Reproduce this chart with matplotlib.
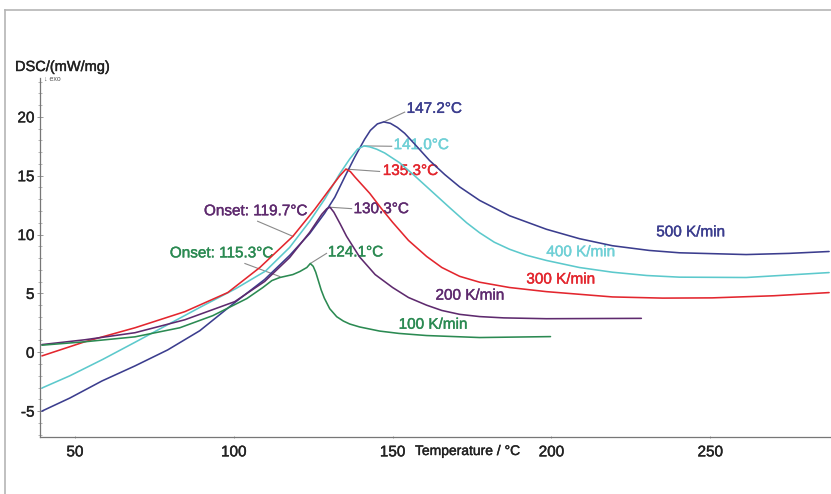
import matplotlib
matplotlib.use("Agg")
import matplotlib.pyplot as plt
from matplotlib.ticker import MultipleLocator
from matplotlib.lines import Line2D
import matplotlib.patheffects as pe
import numpy as np

plt.rcParams['font.family'] = ['Liberation Sans', 'DejaVu Sans']
plt.rcParams['axes.unicode_minus'] = False

# ---- data ----
t500 = [39.6, 48.4, 58.5, 68.9, 79.2, 89.3, 100.3, 109.7, 117.6, 123.9, 128.6, 131.8, 134.9, 138.1,
        141.2, 143.0, 145.2, 147.2, 149.3, 151.5, 153.8, 156.9, 161.6, 166.4, 171.1, 177.4, 186.8,
        198.4, 208.8, 219.2, 230.8, 240.3, 261.3, 274.8, 287.4]
y500 = [-5.00, -3.89, -2.44, -1.16, 0.20, 1.83, 4.22, 6.18, 8.23, 10.09, 11.81, 13.17, 14.88, 16.59,
        18.10, 18.85, 19.40, 19.57, 19.45, 19.10, 18.60, 17.70, 16.30, 15.10, 14.05, 12.90, 11.60,
        10.45, 9.65, 9.05, 8.65, 8.45, 8.30, 8.40, 8.56]

t400 = [39.6, 48.4, 58.8, 69.2, 79.6, 89.6, 100.6, 110.0, 117.6, 123.9, 128.6, 133.3, 136.5, 139.0,
        141.0, 142.8, 145.0, 147.5, 152.2, 156.9, 162.6, 167.9, 173.3, 177.4, 182.0, 186.8, 192.0,
        198.4, 208.8, 219.2, 230.0, 240.3, 261.3, 287.4]
y400 = [-3.04, -2.00, -0.60, 0.89, 2.40, 3.85, 5.40, 6.90, 8.91, 11.13, 13.00, 15.14, 16.42, 17.27,
        17.53, 17.45, 17.25, 16.93, 16.10, 15.00, 13.60, 12.30, 11.00, 10.15, 9.35, 8.75, 8.25,
        7.80, 7.20, 6.80, 6.52, 6.38, 6.35, 6.77]

t300 = [39.6, 53.1, 68.9, 84.6, 98.1, 108.2, 118.6, 125.5, 130.2, 133.3, 135.3, 136.7, 138.1, 142.8,
        146.5, 150.0, 155.0, 160.7, 165.5, 171.1, 177.4, 186.8, 198.4, 219.2, 235.0, 250.6, 270.0,
        287.4]
y300 = [-0.31, 0.89, 2.08, 3.45, 5.07, 7.20, 9.85, 12.15, 13.86, 14.97, 15.56, 15.35, 14.90, 13.50,
        12.20, 11.04, 9.50, 8.14, 7.20, 6.45, 5.95, 5.50, 5.15, 4.70, 4.60, 4.62, 4.80, 5.07]

t200 = [39.6, 53.1, 68.9, 84.6, 100.3, 109.7, 117.6, 123.9, 127.7, 129.3, 130.3, 131.5, 133.5, 135.5,
        139.6, 144.5, 150.0, 155.0, 160.7, 165.5, 171.1, 177.4, 185.0, 198.4, 228.3]
y200 = [0.65, 1.06, 1.66, 2.76, 4.30, 6.01, 8.05, 10.19, 11.72, 12.20, 12.32, 11.90, 10.90, 9.85,
        8.10, 6.60, 5.50, 4.65, 4.00, 3.55, 3.22, 3.03, 2.92, 2.85, 2.88]

t100 = [39.6, 53.1, 68.9, 83.0, 93.4, 104.1, 109.1, 112.0, 114.5, 118.6, 120.8, 123.0, 124.1, 125.0,
        125.8, 126.6, 127.5, 128.5, 130.2, 132.4, 134.5, 136.5, 139.6, 145.9, 152.0, 160.7, 177.4,
        199.7]
y100 = [0.60, 0.89, 1.31, 2.08, 3.11, 4.56, 5.49, 6.09, 6.35, 6.60, 6.86, 7.20, 7.54, 7.30,
        6.80, 6.10, 5.30, 4.60, 3.70, 3.02, 2.65, 2.40, 2.15, 1.80, 1.60, 1.42, 1.25, 1.33]

rate_labels = ["500 K/min", "400 K/min", "300 K/min", "200 K/min", "100 K/min"]
peak_labels = ["147.2°C", "141.0°C", "135.3°C", "130.3°C", "124.1°C"]
onset_labels = ["Onset: 119.7°C", "Onset: 115.3°C"]
x_ticks = [50, 100, 150, 200, 250]
y_ticks = [-5, 0, 5, 10, 15, 20]

# ---- styles ----
line_colors = ["#3b3d8e", "#5cc9cc", "#e3262e", "#5e2a6e", "#2b8a52"]
text_colors = ["#3b3d8e", "#6fd0d6", "#e3262e", "#5e2a6e", "#2b8a52"]
series = [(t500, y500), (t400, y400), (t300, y300), (t200, y200), (t100, y100)]


def heavy(c):
    return [pe.withStroke(linewidth=0.3, foreground=c)]


W, H = 831, 494
fig = plt.figure(figsize=(W / 100, H / 100), dpi=100)
ax = fig.add_axes([40 / W, 1 - 437 / H, 1 - 40 / W, (437 - 78) / H])

for (t, y), c in zip(series, line_colors):
    ax.plot(t, y, color=c, lw=1.15, zorder=3, solid_capstyle='round', solid_joinstyle='round')

ax.set_xlim(39, 288)
ax.set_ylim(-7.2, 23.3)
ax.set_xticks(x_ticks)
ax.set_yticks(y_ticks)
ax.yaxis.set_minor_locator(MultipleLocator(1))
for s in ['top', 'right']:
    ax.spines[s].set_visible(False)
for s in ['left', 'bottom']:
    ax.spines[s].set_color('#777777')
    ax.spines[s].set_linewidth(0.9)
ax.tick_params(axis='both', which='major', direction='inout', length=4, width=0.7,
               color='#999999', labelsize=11, labelcolor='#222222')
ax.tick_params(axis='y', which='minor', direction='inout', length=2.5, width=0.6, color='#aaaaaa')
ax.tick_params(axis='x', which='major', length=2, pad=5)
ax.tick_params(axis='y', pad=2)
for lab in ax.get_xticklabels() + ax.get_yticklabels():
    lab.set_path_effects(heavy('#222222'))
ax.patch.set_alpha(0)

# peak annotations with grey leader lines
peak_text_pos = [(154.4, 20.68), (150.3, 17.6), (146.9, 15.4), (137.7, 12.16), (129.6, 8.48)]
leader_end = [(153.8, 20.4), (149.7, 17.5), (145.9, 15.36), (137.1, 12.2), (129.2, 8.4)]
for (t, y), lab, tc, tp, le in zip(series, peak_labels, text_colors, peak_text_pos, leader_end):
    i = int(np.argmax(y))
    ax.plot([t[i], le[0]], [y[i], le[1]], color='#8a8a8a', lw=0.8, zorder=2)
    ax.text(tp[0], tp[1], lab, color=tc, fontsize=11, ha='left', va='center', zorder=1,
            path_effects=heavy(tc))

# onset annotations
onset_pos = [(123.0, 11.98), (112.3, 8.4)]
onset_lines = [((107.5, 11.13), (118.6, 9.85)), ((103.5, 7.54), (114.5, 6.43))]
onset_colors = [text_colors[3], text_colors[4]]
for lab, pos, ln, c in zip(onset_labels, onset_pos, onset_lines, onset_colors):
    ax.plot([ln[0][0], ln[1][0]], [ln[0][1], ln[1][1]], color='#8a8a8a', lw=0.8, zorder=2)
    ax.text(pos[0], pos[1], lab, color=c, fontsize=11, ha='right', va='center', zorder=1,
            path_effects=heavy(c))

# rate labels
rate_pos = [(233.0, 10.19), (198.4, 8.5), (192.1, 6.18), (163.5, 4.81), (151.9, 2.34)]
for lab, pos, c in zip(rate_labels, rate_pos, text_colors):
    ax.text(pos[0], pos[1], lab, color=c, fontsize=11, ha='left', va='center', zorder=1,
            path_effects=heavy(c))

# axis titles
fig.text(15 / W, 1 - 67 / H, "DSC/(mW/mg)", fontsize=10.5, color='#222222', ha='left', va='center',
         path_effects=heavy('#222222'))
fig.text(44 / W, 1 - 79 / H, "↓ exo", fontsize=5, color='#555555', ha='left', va='center')
fig.text(415 / W, 1 - 451 / H, "Temperature / °C", fontsize=10, color='#222222', ha='left',
         va='center', path_effects=heavy('#222222'))

# outer frame
fig.add_artist(Line2D([5 / W, 1], [1 - 10 / H, 1 - 10 / H], color='#b5b5b5', lw=1.2,
                      transform=fig.transFigure))
fig.add_artist(Line2D([5 / W, 5 / W], [0, 1 - 10 / H], color='#b5b5b5', lw=1.2,
                      transform=fig.transFigure))

fig.savefig("out.png", dpi=100)
